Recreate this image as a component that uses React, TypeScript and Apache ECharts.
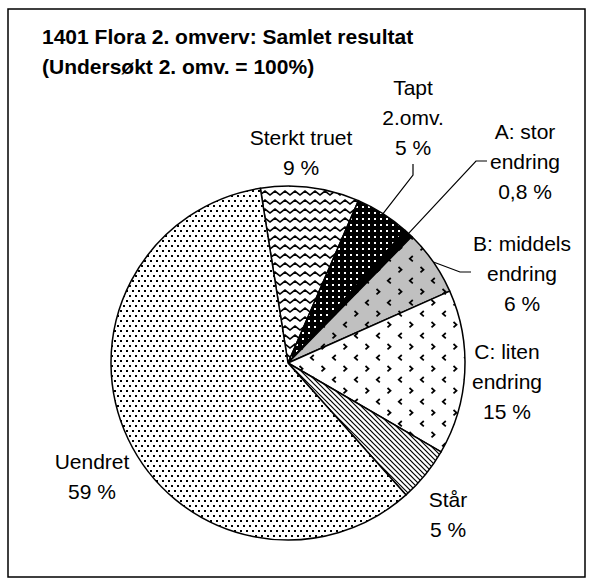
import React, { useEffect, useRef } from 'react';
import * as echarts from 'echarts';

const categories = [
  'Sterkt truet',
  'Tapt\n2.omv.',
  'A: stor\nendring',
  'B: middels\nendring',
  'C: liten\nendring',
  'Står',
  'Uendret',
];
const values = [9, 5, 0.8, 6, 15, 5, 59];
const titleLines = ['1401 Flora 2. omverv: Samlet resultat', '(Undersøkt 2. omv. = 100%)'];

// label anchor positions (styling)
const labelPos: number[][] = [
  [301, 152],
  [413, 117],
  [525, 161],
  [522, 273],
  [507, 381],
  [448, 514],
  [92, 476],
];
const leaderElbows: (number[][] | null)[] = [
  null,
  [[413, 175], [413, 164]],
  [[476, 161], [487, 161]],
  [[460, 272], [471, 272]],
  null,
  null,
  null,
];

const FONT = '"Liberation Sans", Arial, sans-serif';

function makeCanvas(w: number, h: number, draw: (ctx: CanvasRenderingContext2D) => void) {
  const c = document.createElement('canvas');
  c.width = w;
  c.height = h;
  const ctx = c.getContext('2d')!;
  draw(ctx);
  return c;
}
function pat(c: HTMLCanvasElement) {
  return { image: c, repeat: 'repeat', imageWidth: c.width, imageHeight: c.height } as any;
}

function chevron(ctx: CanvasRenderingContext2D, x: number, y: number, left: boolean) {
  ctx.beginPath();
  if (left) {
    ctx.moveTo(x + 3.8, y);
    ctx.lineTo(x + 0.8, y + 2.7);
    ctx.lineTo(x + 3.8, y + 5.4);
  } else {
    ctx.moveTo(x + 0.5, y);
    ctx.lineTo(x + 3.5, y + 2.7);
    ctx.lineTo(x + 0.5, y + 5.4);
  }
  ctx.stroke();
}

function buildPatterns() {
  // Sterkt truet: zigzag
  const zig = makeCanvas(10, 9, (ctx) => {
    ctx.fillStyle = '#fff';
    ctx.fillRect(0, 0, 10, 9);
    ctx.strokeStyle = '#000';
    ctx.lineWidth = 1.7;
    ctx.beginPath();
    ctx.moveTo(-5, 2);
    ctx.lineTo(0, 6);
    ctx.lineTo(5, 2);
    ctx.lineTo(10, 6);
    ctx.lineTo(15, 2);
    ctx.stroke();
  });
  // Tapt: black with white dots
  const blackDots = makeCanvas(6, 6, (ctx) => {
    ctx.fillStyle = '#000';
    ctx.fillRect(0, 0, 6, 6);
    ctx.fillStyle = '#fff';
    ctx.fillRect(2, 2, 2, 2);
  });
  // A: solid black
  const solid = '#000';
  // B: gray with chevrons
  const grayChev = makeCanvas(22, 22, (ctx) => {
    ctx.fillStyle = '#c0c0c0';
    ctx.fillRect(0, 0, 22, 22);
    ctx.strokeStyle = '#000';
    ctx.lineWidth = 1.8;
    chevron(ctx, 2, 3, false);
    chevron(ctx, 13, 14, true);
  });
  // C: white with chevrons
  const whiteChev = makeCanvas(22, 22, (ctx) => {
    ctx.fillStyle = '#fff';
    ctx.fillRect(0, 0, 22, 22);
    ctx.strokeStyle = '#000';
    ctx.lineWidth = 1.8;
    chevron(ctx, 2, 3, true);
    chevron(ctx, 13, 14, false);
  });
  // Står: downward diagonal
  const diag = makeCanvas(5, 5, (ctx) => {
    ctx.fillStyle = '#fff';
    ctx.fillRect(0, 0, 5, 5);
    ctx.strokeStyle = '#000';
    ctx.lineWidth = 1.2;
    for (const k of [-5, 0, 5]) {
      ctx.beginPath();
      ctx.moveTo(k - 1, -1);
      ctx.lineTo(k + 6, 6);
      ctx.stroke();
    }
  });
  // Uendret: small dots
  const dots = makeCanvas(6, 10, (ctx) => {
    ctx.fillStyle = '#fff';
    ctx.fillRect(0, 0, 6, 10);
    ctx.fillStyle = '#000';
    ctx.fillRect(0, 0, 2, 2);
    ctx.fillRect(3, 5, 2, 2);
  });
  return [pat(zig), pat(blackDots), solid, pat(grayChev), pat(whiteChev), pat(diag), pat(dots)];
}

export default function App() {
  const ref = useRef<HTMLDivElement>(null);
  useEffect(() => {
    if (!ref.current) return;
    const chart = echarts.init(ref.current, undefined, { renderer: 'svg' });
    const patterns = buildPatterns();
    chart.setOption({
      animation: false,
      backgroundColor: '#fff',
      title: {
        text: titleLines.join('\n'),
        left: 42,
        top: 21,
        padding: 0,
        textStyle: { fontFamily: FONT, fontSize: 21, fontWeight: 'bold', color: '#000', lineHeight: 30 },
      },
      graphic: [
        {
          type: 'rect',
          shape: { x: 8, y: 9, width: 577, height: 568 },
          style: { fill: 'none', stroke: '#000', lineWidth: 1.5 },
          silent: true,
        },
      ],
      series: [
        {
          type: 'pie',
          center: [288, 363],
          radius: 177,
          startAngle: 99,
          clockwise: true,
          avoidLabelOverlap: false,
          emphasis: { disabled: true },
          itemStyle: { borderColor: '#000', borderWidth: 1.5 },
          label: {
            show: true,
            position: 'outside',
            color: '#000',
            fontFamily: FONT,
            fontSize: 21,
            lineHeight: 30,
            align: 'center',
            formatter: (p: any) => `${p.name}\n${String(p.value).replace('.', ',')} %`,
          },
          labelLine: { show: true, length: 5, length2: 5, lineStyle: { color: '#000', width: 1.2 } },
          labelLayout: (p: any) => {
            const i = p.dataIndex;
            const [x, y] = labelPos[i];
            const res: any = { x, y, align: 'center', verticalAlign: 'middle' };
            const elbow = leaderElbows[i];
            if (elbow && p.labelLinePoints) {
              res.labelLinePoints = [p.labelLinePoints[0], ...elbow];
            }
            return res;
          },
          data: values.map((v, i) => ({
            name: categories[i],
            value: v,
            itemStyle: { color: patterns[i] },
            labelLine: { show: leaderElbows[i] != null },
          })),
        },
      ],
    });
    return () => chart.dispose();
  }, []);
  return (
    <div
      ref={ref}
      style={{ position: 'fixed', left: 0, top: 0, width: 593, height: 582, background: '#fff' }}
    />
  );
}
